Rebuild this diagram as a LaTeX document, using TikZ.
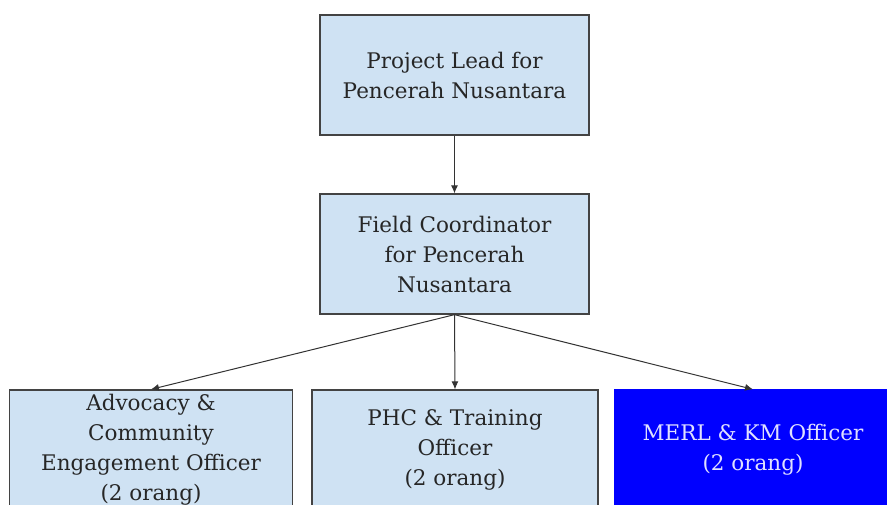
\documentclass[tikz,border=0pt]{standalone}
\usepackage{fontspec}
\setmainfont{DejaVu Serif}
\usetikzlibrary{arrows.meta}
\definecolor{boxfill}{HTML}{CFE2F3}
\definecolor{boxline}{HTML}{434343}
\definecolor{merlblue}{HTML}{0000FF}
\begin{document}
\begin{tikzpicture}[x=1pt,y=-1pt,
  box/.style={draw=boxline,line width=1.3pt,fill=boxfill,minimum width=269pt,minimum height=120pt,
    align=center,inner sep=0pt,text=black!85,font=\fontsize{21.5}{30}\selectfont},
  link/.style={draw=black!80,line width=1pt,-{Latex[length=8pt,width=7pt]}}]
\useasboundingbox (0,0) rectangle (887,504);
\clip (0,0) rectangle (887,504);
\node[box] (lead) at (454.5,75) {Project Lead for\\Pencerah Nusantara};
\node[box,minimum height=120pt] (fc) at (454.5,254) {Field Coordinator\\for Pencerah\\Nusantara};
\node[box,minimum width=283pt] (adv) at (151,450) {Advocacy \&\\Community\\Engagement Officer\\(2 orang)};
\node[box,minimum width=286pt] (phc) at (455,450) {PHC \& Training\\Officer\\(2 orang)};
\node[box,minimum width=276pt,fill=merlblue,draw=merlblue,text=white!88!blue] (merl) at (753,450) {MERL \& KM Officer\\(2 orang)};
\draw[link] (lead.south) -- (fc.north);
\draw[link] (fc.south) -- (adv.north);
\draw[link] (fc.south) -- (phc.north);
\draw[link] (fc.south) -- (merl.north);
\end{tikzpicture}
\end{document}
